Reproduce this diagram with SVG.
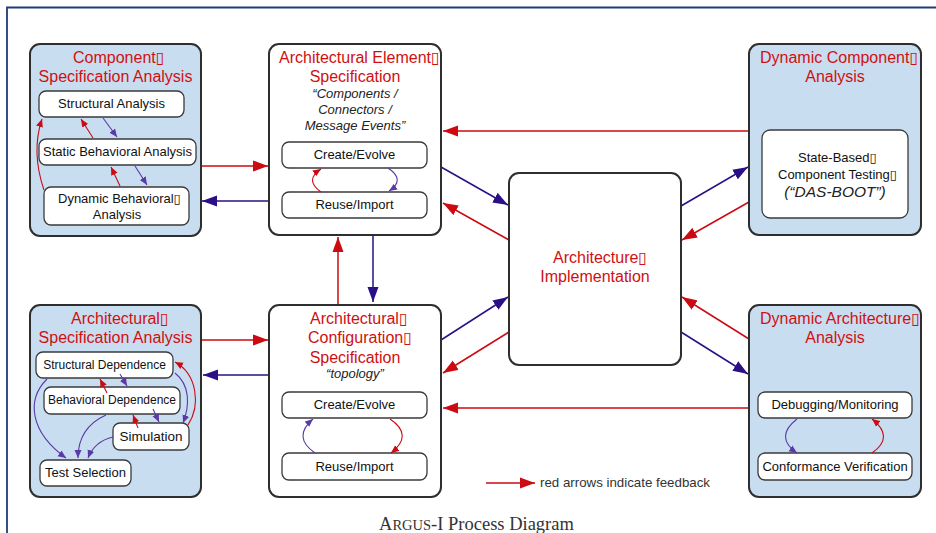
<svg xmlns="http://www.w3.org/2000/svg" width="936" height="533" viewBox="0 0 936 533">
<style>
.ob{fill:#c9ddf1;stroke:#2e2e2e;stroke-width:2}
.ow{fill:#fff;stroke:#2e2e2e;stroke-width:2}
.ib{fill:#fff;stroke:#3a3a3a;stroke-width:1.3}
.t{font-family:"Liberation Sans","DejaVu Sans",sans-serif;fill:#d01010;font-size:16px}
.n{font-family:"Liberation Sans","DejaVu Sans",sans-serif;fill:#111;font-size:13px}
.s{font-family:"Liberation Sans","DejaVu Sans",sans-serif;fill:#111;font-size:12px}
.i{font-family:"Liberation Sans","DejaVu Sans",sans-serif;fill:#222;font-size:13px;font-style:italic}
.m{text-anchor:middle}
.r{fill:none;stroke:#cc0a12;stroke-width:1.5}
.v{fill:none;stroke:#2b0f86;stroke-width:1.5}
.rs{fill:none;stroke:#cc0a12;stroke-width:1.1}
.ps{fill:none;stroke:#5a3aa6;stroke-width:1.1}
</style>
<defs>
<marker id="ar" markerUnits="userSpaceOnUse" markerWidth="16" markerHeight="12" refX="15" refY="6" orient="auto"><path d="M0,0.5 L15,6 L0,11.5 z" fill="#cc0a12"/></marker>
<marker id="av" markerUnits="userSpaceOnUse" markerWidth="16" markerHeight="12" refX="15" refY="6" orient="auto"><path d="M0,0.5 L15,6 L0,11.5 z" fill="#2b0f86"/></marker>
<marker id="sr" markerUnits="userSpaceOnUse" markerWidth="9" markerHeight="8" refX="8" refY="4" orient="auto"><path d="M0,0.5 L8,4 L0,7.5 z" fill="#cc0a12"/></marker>
<marker id="sp" markerUnits="userSpaceOnUse" markerWidth="9" markerHeight="8" refX="8" refY="4" orient="auto"><path d="M0,0.5 L8,4 L0,7.5 z" fill="#5a3aa6"/></marker>
</defs>
<rect width="936" height="533" fill="#fff"/>
<path d="M7,533 L7,7.5 L936,7.5" fill="none" stroke="#1f3c7a" stroke-width="1.8"/>

<g id="connectors">
<path class="r" marker-end="url(#ar)" d="M201,166 L268,166"/>
<path class="v" marker-end="url(#av)" d="M268,201 L202,201"/>
<path class="r" marker-end="url(#ar)" d="M749,131 L443,131"/>
<path class="v" marker-end="url(#av)" d="M441,167 L508,205"/>
<path class="r" marker-end="url(#ar)" d="M509,240 L443,203"/>
<path class="v" marker-end="url(#av)" d="M681,206 L748,167"/>
<path class="r" marker-end="url(#ar)" d="M749,202 L682,240"/>
<path class="r" marker-end="url(#ar)" d="M338,305 L338,237"/>
<path class="v" marker-end="url(#av)" d="M373,235 L373,302"/>
<path class="r" marker-end="url(#ar)" d="M201,340 L268,340"/>
<path class="v" marker-end="url(#av)" d="M268,375 L203,375"/>
<path class="v" marker-end="url(#av)" d="M441,340 L508,297"/>
<path class="r" marker-end="url(#ar)" d="M509,332 L443,373"/>
<path class="r" marker-end="url(#ar)" d="M749,408 L443,408"/>
<path class="r" marker-end="url(#ar)" d="M749,339 L682,297"/>
<path class="v" marker-end="url(#av)" d="M681,332 L748,374"/>
<path class="r" marker-end="url(#ar)" d="M486,483 L535,483"/>
</g>

<g id="component-spec-analysis">
<rect class="ob" x="30" y="44" width="171" height="192" rx="10"/>
<text class="t" x="73" y="63">Component▯</text>
<text class="t m" x="115.5" y="82">Specification Analysis</text>
<rect class="ib" x="39" y="91" width="145" height="26" rx="7"/>
<text class="n m" x="111.5" y="108">Structural Analysis</text>
<rect class="ib" x="39" y="139" width="157" height="26" rx="7"/>
<text class="n m" x="117.5" y="156">Static Behavioral Analysis</text>
<rect class="ib" x="44" y="187" width="145" height="38" rx="7"/>
<text class="n" x="58" y="203">Dynamic Behavioral▯</text>
<text class="n m" x="117" y="219">Analysis</text>
<path class="rs" marker-end="url(#sr)" d="M44,190 Q31,152 42,119"/>
<path class="rs" marker-end="url(#sr)" d="M93,138 L81,119"/>
<path class="ps" marker-end="url(#sp)" d="M103,118 L117,137"/>
<path class="rs" marker-end="url(#sr)" d="M120,186 L111,167"/>
<path class="ps" marker-end="url(#sp)" d="M135,166 L147,185"/>
</g>

<g id="arch-element-spec">
<rect class="ow" x="269" y="44" width="172" height="191" rx="10"/>
<text class="t" x="279" y="63">Architectural Element▯</text>
<text class="t m" x="355" y="82">Specification</text>
<text class="i m" x="355" y="98">“Components /</text>
<text class="i m" x="355" y="114">Connectors /</text>
<text class="i m" x="355" y="130">Message Events”</text>
<rect class="ib" x="282" y="142" width="145" height="26" rx="7"/>
<text class="n m" x="354.5" y="159">Create/Evolve</text>
<rect class="ib" x="282" y="192" width="145" height="26" rx="7"/>
<text class="n m" x="354.5" y="209">Reuse/Import</text>
<path class="rs" marker-end="url(#sr)" d="M321,192 Q304,180 321,169"/>
<path class="ps" marker-end="url(#sp)" d="M388,168 Q406,180 389,191"/>
</g>

<g id="dynamic-component-analysis">
<rect class="ob" x="749" y="44" width="172" height="191" rx="10"/>
<text class="t" x="760" y="63">Dynamic Component▯</text>
<text class="t m" x="835" y="82">Analysis</text>
<rect class="ib" x="762" y="130" width="146" height="88" rx="8"/>
<text class="n" x="798" y="162">State-Based▯</text>
<text class="n" x="778" y="179">Component Testing▯</text>
<text class="i m" x="835" y="197" style="font-size:15.5px">(“DAS-BOOT”)</text>
</g>

<g id="architecture-implementation">
<rect class="ow" x="509" y="173" width="172" height="192" rx="10"/>
<text class="t" x="553" y="263">Architecture▯</text>
<text class="t m" x="595" y="282">Implementation</text>
</g>

<g id="arch-spec-analysis">
<rect class="ob" x="30" y="305" width="171" height="192" rx="10"/>
<text class="t" x="71" y="324">Architectural▯</text>
<text class="t m" x="115.5" y="343">Specification Analysis</text>
<rect class="ib" x="36" y="352" width="137" height="26" rx="7"/>
<text class="s m" x="104.5" y="369">Structural Dependence</text>
<rect class="ib" x="44" y="387" width="136" height="27" rx="7"/>
<text class="s m" x="112" y="404">Behavioral Dependence</text>
<rect class="ib" x="113" y="423" width="76" height="27" rx="7"/>
<text class="n m" x="151" y="441" style="font-size:13.5px">Simulation</text>
<rect class="ib" x="40" y="460" width="91" height="26" rx="7"/>
<text class="n m" x="85.5" y="477">Test Selection</text>
<path class="ps" marker-end="url(#sp)" d="M47,379 C26,400 30,432 66,458"/>
<path class="ps" marker-end="url(#sp)" d="M106,415 C86,424 78,440 78,458"/>
<path class="ps" marker-end="url(#sp)" d="M113,437 C100,440 92,448 88,458"/>
<path class="ps" marker-end="url(#sp)" d="M120,374 L127,386"/>
<path class="rs" marker-end="url(#sr)" d="M107,393 L100,379"/>
<path class="ps" marker-end="url(#sp)" d="M153,409 L159,422"/>
<path class="rs" marker-end="url(#sr)" d="M138,428 L133,415"/>
<path class="ps" marker-end="url(#sp)" d="M175,373 C190,385 190,405 183,423"/>
<path class="rs" marker-end="url(#sr)" d="M188,425 C201,405 197,374 175,362"/>
</g>

<g id="arch-config-spec">
<rect class="ow" x="269" y="305" width="172" height="192" rx="10"/>
<text class="t" x="310" y="324">Architectural▯</text>
<text class="t" x="308" y="343">Configuration▯</text>
<text class="t m" x="355" y="363">Specification</text>
<text class="i m" x="355" y="378">“topology”</text>
<rect class="ib" x="282" y="392" width="145" height="26" rx="7"/>
<text class="n m" x="354.5" y="409">Create/Evolve</text>
<rect class="ib" x="282" y="453" width="145" height="27" rx="7"/>
<text class="n m" x="354.5" y="471">Reuse/Import</text>
<path class="ps" marker-end="url(#sp)" d="M315,453 Q292,437 313,419"/>
<path class="rs" marker-end="url(#sr)" d="M390,419 Q414,435 391,453"/>
</g>

<g id="dynamic-arch-analysis">
<rect class="ob" x="749" y="305" width="172" height="192" rx="10"/>
<text class="t" x="760" y="324">Dynamic Architecture▯</text>
<text class="t m" x="835" y="343">Analysis</text>
<rect class="ib" x="758" y="392" width="154" height="26" rx="7"/>
<text class="n m" x="835" y="409">Debugging/Monitoring</text>
<rect class="ib" x="758" y="453" width="154" height="27" rx="7"/>
<text class="n m" x="835" y="471">Conformance Verification</text>
<path class="ps" marker-end="url(#sp)" d="M797,419 Q774,437 797,453"/>
<path class="rs" marker-end="url(#sr)" d="M872,453 Q895,437 872,419"/>
</g>

<g id="legend">
<text class="n" x="540" y="487" style="fill:#333;font-size:13.3px">red arrows indicate feedback</text>
</g>
<text x="379" y="530" style="font-family:'Liberation Serif',serif;font-size:18.5px;fill:#333">A<tspan style="font-size:14.5px">RGUS</tspan>-I Process Diagram</text>
</svg>
